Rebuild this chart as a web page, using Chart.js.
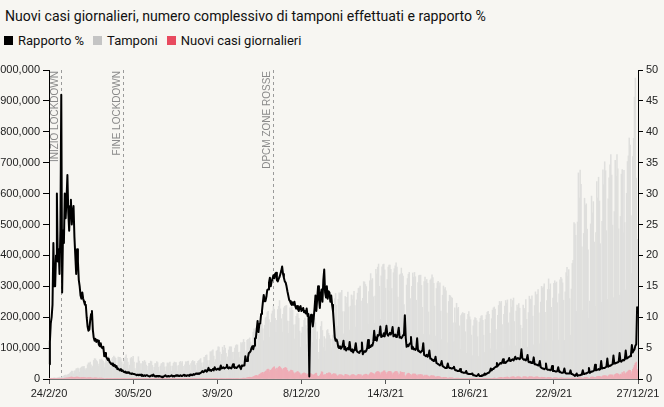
<!DOCTYPE html>
<html lang="it">
<head>
<meta charset="utf-8">
<title>Nuovi casi giornalieri, tamponi e rapporto %</title>
<script src="https://cdn.jsdelivr.net/npm/chart.js@4.4.1/dist/chart.umd.min.js"></script>
<style>
  html, body { margin: 0; padding: 0; background: #f7f6f2; }
  body { width: 664px; height: 407px; position: relative; overflow: hidden; font-family: Roboto, "Noto Sans", sans-serif; color: #111; }
  #titolo { position: absolute; left: 5px; top: 8px; font-size: 14.1px; line-height: 17px; white-space: nowrap; }
  #legenda { position: absolute; left: 4px; top: 33px; font-size: 13px; line-height: 15px; display: flex; white-space: nowrap; }
  .voce { display: flex; align-items: center; margin-right: 9px; }
  .quad { width: 9px; height: 9px; margin-right: 5px; }
  canvas { position: absolute; left: 0; top: 0; }
</style>
</head>
<body>
<div id="titolo">Nuovi casi giornalieri, numero complessivo di tamponi effettuati e rapporto %</div>
<div id="legenda">
  <div class="voce"><span class="quad" style="background:#000"></span>Rapporto %</div>
  <div class="voce"><span class="quad" style="background:#c4c4c4"></span>Tamponi</div>
  <div class="voce"><span class="quad" style="background:#e84a5f"></span>Nuovi casi giornalieri</div>
</div>
<canvas id="grafico" width="664" height="407"></canvas>
<script>
// etichette mostrate sull'asse orizzontale
const tickLabels = ['24/2/20', '30/5/20', '3/9/20', '8/12/20', '14/3/21', '18/6/21', '22/9/21', '27/12/21'];

// date notevoli
const eventi = [
    { data: '9/3/20', testo: 'INIZIO LOCKDOWN' },
    { data: '18/5/20', testo: 'FINE LOCKDOWN' },
    { data: '6/11/20', testo: 'DPCM ZONE ROSSE' }
];

// tamponi giornalieri, in migliaia (una riga = una settimana, da lunedì)
const tamponiMigliaia = [
    2, 2, 2, 3, 2, 3, 4,
    3, 3, 3, 4, 5, 6, 4,
    4, 7, 8, 10, 12, 13, 11,
    13, 15, 16, 19, 22, 26, 25,
    17, 26, 27, 33, 34, 35, 33,
    22, 35, 38, 40, 39, 41, 34,
    30, 34, 46, 52, 51, 55, 46,
    36, 42, 60, 66, 65, 60, 56,
    41, 48, 63, 62, 65, 61, 58,
    37, 52, 68, 72, 73, 73, 62,
    38, 54, 65, 70, 74, 71, 67,
    35, 44, 71, 70, 70, 66, 55,
    29, 48, 63, 71, 78, 67, 55,
    33, 45, 66, 70, 66, 73, 55,
    34, 27, 52, 52, 72, 58, 50,
    28, 50, 57, 55, 60, 55, 45,
    27, 41, 51, 51, 58, 56, 44,
    27, 38, 50, 50, 56, 53, 38,
    23, 42, 49, 51, 54, 52, 39,
    24, 40, 52, 49, 52, 55, 42,
    25, 42, 51, 55, 53, 53, 43,
    25, 44, 54, 57, 52, 56, 41,
    26, 46, 56, 55, 57, 58, 45,
    27, 50, 56, 60, 56, 57, 45,
    27, 51, 57, 60, 62, 66, 52,
    38, 53, 70, 71, 77, 78, 60,
    45, 60, 88, 88, 91, 94, 74,
    55, 63, 90, 93, 104, 103, 87,
    57, 80, 103, 93, 109, 100, 83,
    58, 72, 94, 104, 104, 104, 86,
    63, 87, 100, 108, 111, 110, 86,
    69, 87, 118, 114, 118, 128, 119,
    84, 91, 125, 128, 129, 133, 120,
    101, 112, 152, 162, 150, 165, 146,
    99, 144, 170, 177, 182, 178, 162,
    124, 174, 198, 201, 215, 219, 192,
    136, 183, 211, 220, 235, 226, 196,
    151, 190, 225, 235, 254, 227, 195,
    152, 209, 230, 235, 237, 238, 188,
    148, 187, 230, 221, 233, 222, 175,
    130, 176, 203, 211, 212, 196, 155,
    103, 149, 168, 167, 190, 197, 173,
    111, 163, 193, 189, 197, 200, 161,
    118, 170, 196, 182, 128, 153, 64,
    86, 129, 170, 186, 157, 102, 137,
    90, 130, 157, 160, 148, 141, 130,
    102, 128, 142, 160, 260, 277, 239,
    171, 258, 279, 276, 280, 287, 218,
    146, 218, 267, 245, 264, 281, 233,
    158, 236, 272, 257, 270, 284, 238,
    168, 256, 278, 293, 295, 301, 252,
    157, 261, 315, 314, 306, 299, 244,
    178, 283, 318, 341, 320, 325, 266,
    180, 268, 355, 340, 362, 372, 300,
    193, 334, 363, 370, 372, 353, 294,
    180, 322, 362, 369, 369, 355, 293,
    175, 344, 357, 366, 376, 362, 265,
    173, 337, 340, 359, 341, 333, 241,
    94, 152, 304, 325, 339, 345, 260,
    145, 300, 343, 330, 345, 331, 255,
    150, 312, 335, 336, 336, 303, 232,
    145, 315, 330, 316, 322, 310, 217,
    143, 320, 324, 337, 328, 310, 236,
    139, 293, 311, 316, 301, 311, 220,
    128, 271, 301, 291, 296, 285, 213,
    118, 251, 271, 269, 264, 262, 182,
    121, 230, 182, 245, 228, 232, 172,
    96, 205, 211, 215, 212, 212, 153,
    83, 192, 209, 218, 201, 192, 142,
    76, 172, 191, 199, 196, 189, 137,
    73, 184, 196, 204, 205, 190, 142,
    86, 193, 207, 216, 219, 209, 148,
    98, 195, 223, 230, 233, 226, 160,
    95, 206, 238, 251, 246, 251, 176,
    100, 209, 236, 254, 246, 256, 182,
    108, 214, 259, 233, 254, 262, 186,
    107, 220, 239, 232, 244, 229, 174,
    87, 164, 239, 229, 224, 257, 193,
    103, 215, 268, 259, 256, 269, 204,
    111, 238, 282, 272, 274, 289, 214,
    114, 249, 300, 294, 298, 308, 216,
    124, 254, 290, 324, 290, 308, 232,
    124, 262, 310, 318, 310, 314, 247,
    126, 276, 321, 329, 324, 311, 255,
    125, 282, 344, 361, 333, 354, 260,
    142, 291, 374, 384, 506, 502, 465,
    219, 508, 667, 586, 676, 630, 428,
    222, 471, 585, 563, 567, 485, 418,
    196, 252, 502, 592, 538, 574, 443,
    235, 474, 639, 586, 653, 576, 438,
    248, 510, 677, 629, 703, 674, 480,
    258, 583, 651, 693, 726, 660, 498,
    263, 542, 708, 656, 726, 680, 486,
    271, 526, 663, 678, 473, 675, 506,
    288, 601, 704, 722, 780, 757, 529,
    340, 720, 779, 912, 974, 650, 452,
    258
];

// nuovi casi giornalieri, in migliaia
const casiMigliaia = [
    0.22, 0.09, 0.08, 0.25, 0.24, 0.24, 0.57,
    0.34, 0.47, 0.59, 0.77, 0.78, 1.25, 1.49,
    1.8, 0.98, 2.0, 2.31, 2.65, 2.55, 3.5,
    3.23, 3.53, 4.21, 5.32, 5.99, 6.56, 5.56,
    4.79, 5.25, 5.21, 6.15, 5.96, 5.97, 5.22,
    4.05, 4.05, 4.78, 4.67, 4.58, 4.8, 4.32,
    3.6, 3.04, 3.84, 4.2, 3.95, 4.69, 4.09,
    3.15, 2.97, 2.67, 3.79, 3.49, 3.49, 3.05,
    2.26, 2.73, 3.37, 2.65, 3.02, 2.36, 2.32,
    1.74, 1.74, 2.09, 1.87, 1.97, 1.9, 1.39,
    1.22, 1.08, 1.44, 1.4, 1.33, 1.08, 0.8,
    0.74, 0.45, 0.81, 0.88, 0.79, 0.87, 0.68,
    0.45, 0.81, 0.67, 0.64, 0.65, 0.67, 0.53,
    0.3, 0.4, 0.58, 0.59, 0.52, 0.42, 0.36,
    0.18, 0.32, 0.32, 0.52, 0.27, 0.41, 0.27,
    0.2, 0.28, 0.2, 0.38, 0.33, 0.34, 0.34,
    0.3, 0.21, 0.33, 0.25, 0.26, 0.25, 0.26,
    0.22, 0.12, 0.19, 0.29, 0.26, 0.18, 0.17,
    0.13, 0.14, 0.19, 0.2, 0.24, 0.23, 0.19,
    0.21, 0.19, 0.19, 0.23, 0.28, 0.19, 0.21,
    0.17, 0.11, 0.16, 0.23, 0.23, 0.25, 0.22,
    0.13, 0.13, 0.28, 0.31, 0.31, 0.25, 0.3,
    0.18, 0.21, 0.29, 0.39, 0.38, 0.3, 0.24,
    0.16, 0.19, 0.38, 0.4, 0.4, 0.55, 0.46,
    0.26, 0.41, 0.48, 0.52, 0.57, 0.63, 0.48,
    0.32, 0.4, 0.64, 0.85, 0.95, 1.07, 1.21,
    0.95, 1.07, 1.37, 1.37, 1.46, 1.41, 1.36,
    0.99, 0.98, 1.33, 1.4, 1.73, 1.69, 1.3,
    1.11, 1.11, 1.43, 1.6, 1.62, 1.64, 1.46,
    1.0, 1.23, 1.45, 1.45, 1.91, 1.64, 1.59,
    1.35, 1.39, 1.64, 1.79, 1.91, 1.87, 1.77,
    1.49, 1.65, 1.85, 2.55, 2.5, 2.84, 2.58,
    2.26, 2.68, 3.68, 4.46, 5.37, 5.72, 5.46,
    4.62, 5.9, 7.33, 8.8, 10.0, 10.9, 11.7,
    9.34, 10.9, 15.2, 16.0, 19.1, 19.6, 21.3,
    17.0, 22.0, 25.0, 26.8, 31.1, 31.8, 29.9,
    22.3, 28.2, 30.5, 34.5, 37.8, 39.8, 32.6,
    25.3, 35.1, 32.9, 37.9, 40.9, 37.3, 33.9,
    27.3, 32.2, 34.3, 36.2, 37.2, 34.8, 28.3,
    22.9, 23.2, 25.9, 29.0, 28.4, 26.3, 20.6,
    16.4, 19.4, 20.7, 23.2, 24.1, 21.1, 18.9,
    13.7, 12.9, 16.9, 18.7, 19.9, 17.9, 17.9,
    12.0, 14.8, 17.6, 18.2, 17.9, 17.0, 15.1,
    10.9, 13.3, 14.5, 18.0, 19.0, 10.4, 8.9,
    8.6, 11.2, 16.2, 23.5, 22.2, 11.8, 14.2,
    10.8, 15.4, 18.0, 17.2, 19.9, 19.9, 18.6,
    12.5, 14.2, 15.8, 17.2, 16.1, 16.3, 12.5,
    8.8, 10.5, 13.6, 14.1, 13.6, 13.3, 11.6,
    8.6, 10.6, 15.2, 14.4, 13.6, 12.7, 11.3,
    7.9, 10.6, 13.2, 13.7, 14.2, 13.4, 11.6,
    7.9, 10.6, 12.9, 15.1, 13.9, 13.5, 13.5,
    7.4, 10.4, 13.0, 13.8, 15.5, 15.5, 13.3,
    9.6, 13.3, 16.4, 20.4, 20.5, 18.9, 17.5,
    13.1, 17.1, 20.9, 22.9, 24.0, 23.6, 20.8,
    13.9, 19.7, 22.4, 23.0, 26.8, 26.1, 21.3,
    15.3, 20.4, 23.1, 24.9, 24.0, 23.8, 20.2,
    13.8, 18.8, 21.3, 23.7, 24.1, 23.8, 19.6,
    12.9, 16.0, 23.9, 21.3, 21.9, 18.0, 21.3,
    10.7, 7.8, 13.7, 17.2, 18.9, 17.6, 15.4,
    9.8, 13.4, 16.2, 16.2, 16.0, 15.9, 12.7,
    8.9, 13.8, 13.8, 13.8, 14.8, 13.4, 13.2,
    8.4, 10.4, 12.9, 10.6, 12.6, 10.0, 9.1,
    5.9, 9.1, 11.0, 10.5, 10.6, 10.2, 8.3,
    5.1, 6.9, 7.9, 8.1, 7.6, 7.4, 5.8,
    3.5, 4.5, 5.5, 5.5, 5.2, 5.2, 4.1,
    2.5, 3.2, 3.9, 3.7, 3.4, 3.4, 2.9,
    1.8, 2.5, 2.5, 2.6, 2.4, 2.6, 2.0,
    1.3, 1.9, 2.2, 2.0, 1.9, 1.7, 1.4,
    0.9, 1.3, 1.4, 1.2, 1.2, 1.2, 0.9,
    0.5, 0.8, 0.9, 0.9, 0.9, 0.8, 0.8,
    0.4, 0.7, 0.9, 0.8, 0.8, 0.9, 0.8,
    0.5, 0.9, 1.0, 1.4, 1.4, 1.4, 1.4,
    0.9, 1.6, 2.2, 2.5, 3.1, 3.1, 2.4,
    1.8, 2.9, 3.6, 4.3, 5.1, 5.1, 4.7,
    3.1, 4.5, 5.3, 5.7, 5.6, 6.6, 5.3,
    3.2, 4.8, 6.6, 6.6, 7.2, 7.4, 6.0,
    3.7, 5.2, 6.9, 7.2, 7.4, 6.6, 5.7,
    3.0, 3.4, 7.2, 7.3, 7.3, 7.2, 6.0,
    3.8, 5.6, 7.5, 7.0, 6.9, 6.9, 5.9,
    4.3, 5.5, 6.5, 6.8, 6.7, 6.4, 5.4,
    3.5, 4.7, 5.9, 5.3, 5.3, 5.2, 4.6,
    2.8, 3.4, 4.8, 4.9, 4.6, 4.6, 3.9,
    1.9, 3.0, 4.0, 3.8, 3.9, 3.8, 3.3,
    1.8, 2.7, 3.2, 3.8, 3.4, 3.0, 2.8,
    1.9, 2.5, 3.2, 3.2, 3.0, 2.7, 2.7,
    1.6, 2.5, 3.0, 2.7, 3.0, 2.9, 2.4,
    1.6, 2.7, 3.7, 3.7, 3.9, 3.4, 3.0,
    2.5, 2.6, 4.6, 4.9, 4.9, 5.0, 3.8,
    2.3, 2.4, 5.8, 6.4, 6.6, 6.2, 5.5,
    4.1, 5.7, 7.7, 7.9, 8.6, 8.5, 7.6,
    5.1, 7.7, 10.2, 10.6, 11.0, 10.5, 9.7,
    6.4, 9.5, 12.4, 13.8, 13.7, 12.9, 12.9,
    7.0, 12.8, 15.1, 17.0, 17.9, 16.6, 15.0,
    11.1, 15.8, 13.7, 20.5, 15.0, 24.3, 19.2,
    16.2, 20.7, 23.3, 26.1, 28.6, 28.1, 24.3,
    16.2, 30.8, 36.3, 44.6, 50.6, 54.8, 24.9,
    30.8
];

// rapporto positivi / tamponi, in %
const rapporto = [
    2.4, 6, 9, 10, 12, 22, 15,
    15, 20, 30, 19, 21, 17, 24,
    46, 14, 24, 22, 30, 26, 29,
    33, 27, 24, 28, 29, 25, 27,
    28, 23, 20, 17, 21, 19, 16,
    15, 13.5, 13, 14, 13, 12.5, 12,
    12, 10, 8.5, 7.8, 8, 9.5, 10.5,
    11, 8, 6.7, 6.2, 6.5, 6, 6.3,
    6.2, 5.5, 5.3, 5.8, 5.1, 5, 5.2,
    3.7, 4.2, 3.6, 3.4, 3.1, 3.3, 2.8,
    2.6, 2.4, 2.5, 2.2, 2.1, 2.3, 1.9,
    2.1, 1.6, 1.7, 1.5, 1.4, 1.6, 1.3,
    1.4, 1.2, 1.1, 1.2, 1.0, 1.1, 1.0,
    1.1, 0.9, 0.9, 0.8, 0.9, 0.8, 0.8,
    0.8, 0.7, 0.6, 0.7, 0.6, 0.7, 0.6,
    0.7, 0.5, 0.6, 0.5, 0.6, 0.5, 0.6,
    0.6, 0.5, 0.5, 0.4, 0.5, 0.6, 0.5,
    0.7, 0.5, 0.4, 0.5, 0.4, 0.5, 0.4,
    0.5, 0.4, 0.4, 0.3, 0.4, 0.4, 0.5,
    0.6, 0.4, 0.4, 0.5, 0.4, 0.4, 0.5,
    0.6, 0.4, 0.5, 0.4, 0.5, 0.6, 0.5,
    0.6, 0.5, 0.5, 0.6, 0.5, 0.5, 0.6,
    0.7, 0.5, 0.6, 0.5, 0.6, 0.6, 0.5,
    0.7, 0.6, 0.7, 0.6, 0.8, 0.7, 0.8,
    0.9, 0.8, 0.9, 0.8, 0.9, 1.0, 1.1,
    1.3, 1.1, 1.2, 1.4, 1.3, 1.2, 1.4,
    1.8, 1.4, 1.5, 1.3, 1.5, 1.6, 1.4,
    1.9, 1.6, 1.5, 1.6, 1.7, 1.5, 1.7,
    2.2, 1.7, 1.8, 1.9, 1.7, 1.8, 1.9,
    2.3, 1.8, 1.7, 1.9, 1.8, 1.7, 2.0,
    2.4, 1.9, 1.8, 1.9, 1.8, 1.9, 2.1,
    2.2, 1.9, 1.6, 2.2, 2.1, 2.2, 2.2,
    3.7, 2.9, 2.9, 3.5, 4.2, 4.3, 4.5,
    5.0, 5.3, 4.8, 5.4, 6.6, 6.6, 8.0,
    9.4, 7.6, 8.9, 9.0, 10.5, 11.0, 12.4,
    13.6, 12.6, 12.6, 13.3, 14.4, 14.5, 15.6,
    16.4, 15.0, 15.8, 16.2, 16.8, 16.3, 17.0,
    17.2, 16.0, 15.8, 16.2, 16.5, 17.0, 17.5,
    18.2, 17.0, 16.4, 15.8, 15.6, 15.0, 14.2,
    13.5, 12.8, 12.6, 12.2, 12.0, 12.4, 12.0,
    12.5, 11.8, 11.4, 11.8, 11.3, 11.0, 11.6,
    11.8, 11.0, 11.2, 11.5, 10.8, 11.0, 10.6,
    11.4, 10.2, 10.5, 0.4, 9.8, 10.4, 9.5,
    8.5, 9.8, 11.5, 13.5, 11.0, 13.0, 15.0,
    13.0, 11.5, 13.8, 14.5, 12.5, 16.0, 17.7,
    14.0, 13.2, 15.0, 13.0, 14.2, 14.0, 12.5,
    13.5, 12.0, 11.0, 9.0, 6.8, 6.2, 6.4,
    6.0, 5.2, 5.0, 5.3, 4.9, 5.1, 5.4,
    6.2, 4.8, 5.2, 4.6, 4.9, 5.0, 4.8,
    6.0, 4.7, 4.5, 4.8, 4.3, 4.7, 4.9,
    5.8, 4.6, 4.4, 4.3, 4.2, 4.5, 4.6,
    5.9, 4.0, 4.3, 4.5, 4.4, 4.6, 5.0,
    6.3, 5.0, 5.3, 5.2, 5.5, 5.4, 6.0,
    7.8, 6.3, 6.7, 6.2, 7.1, 7.0, 7.2,
    8.5, 6.8, 6.9, 7.0, 7.4, 6.9, 7.7,
    8.6, 7.2, 7.0, 7.3, 7.5, 7.2, 7.6,
    8.4, 6.9, 7.0, 7.2, 6.8, 6.9, 7.4,
    8.3, 6.7, 6.8, 6.6, 6.8, 7.1, 7.2,
    10.3, 6.7, 5.2, 5.5, 5.3, 5.6, 5.8,
    6.8, 4.9, 5.2, 4.8, 4.9, 4.7, 4.9,
    6.6, 4.6, 4.5, 4.4, 4.3, 4.5, 4.6,
    5.8, 3.9, 3.8, 3.7, 3.9, 3.6, 3.8,
    4.6, 3.3, 3.3, 3.1, 3.0, 2.9, 3.0,
    3.6, 2.6, 2.5, 2.4, 2.3, 2.2, 2.4,
    2.9, 2.1, 2.0, 1.9, 1.8, 1.8, 1.9,
    2.5, 1.9, 1.8, 1.8, 1.7, 1.7, 1.8,
    2.0, 1.5, 1.4, 1.4, 1.3, 1.3, 1.3,
    1.6, 1.2, 1.1, 1.1, 1.0, 1.0, 1.0,
    1.3, 0.9, 0.9, 0.8, 0.8, 0.8, 0.8,
    0.9, 0.6, 0.6, 0.6, 0.5, 0.5, 0.6,
    0.8, 0.5, 0.5, 0.5, 0.6, 0.6, 0.6,
    0.9, 0.7, 0.8, 0.9, 1.0, 1.1, 1.2,
    1.7, 1.4, 1.6, 1.6, 1.8, 1.9, 2.0,
    2.6, 2.1, 2.3, 2.4, 2.6, 2.5, 2.7,
    3.2, 2.6, 2.7, 2.6, 2.8, 2.9, 3.0,
    3.4, 2.9, 3.0, 3.1, 3.2, 3.0, 3.3,
    3.6, 3.2, 3.3, 3.4, 3.3, 3.2, 3.5,
    4.8, 3.4, 3.2, 3.1, 3.2, 3.0, 3.2,
    3.9, 2.8, 2.7, 2.8, 2.6, 2.7, 2.6,
    3.5, 2.4, 2.4, 2.3, 2.3, 2.2, 2.3,
    2.9, 1.9, 1.8, 1.7, 1.7, 1.6, 1.7,
    2.5, 1.6, 1.5, 1.5, 1.5, 1.4, 1.5,
    2.1, 1.3, 1.3, 1.3, 1.2, 1.2, 1.3,
    1.9, 1.2, 1.1, 1.1, 1.0, 1.0, 1.1,
    1.7, 1.0, 0.9, 0.9, 0.9, 0.9, 0.9,
    1.4, 0.8, 0.8, 0.7, 0.6, 0.5, 0.6,
    0.9, 0.5, 0.6, 0.6, 0.6, 0.7, 0.8,
    1.4, 0.8, 0.8, 0.9, 0.9, 1.0, 1.1,
    1.8, 1.0, 1.1, 1.2, 1.2, 1.3, 1.4,
    2.3, 1.4, 1.5, 1.5, 1.6, 1.5, 1.6,
    2.9, 1.7, 1.7, 1.8, 1.8, 1.9, 2.0,
    3.3, 2.0, 2.1, 2.2, 2.2, 2.3, 2.4,
    3.8, 2.5, 2.5, 2.6, 2.6, 2.7, 2.8,
    4.2, 2.9, 2.8, 3.0, 3.1, 3.0, 3.2,
    4.6, 3.3, 3.4, 3.5, 3.6, 3.7, 4.0,
    5.5, 4.3, 4.6, 4.8, 5.4, 5.6, 11.6,
    10.5
];

// una data per ogni giorno, dal 24/2/20
const giorni = [];
for (let i = 0; i < rapporto.length; i++) {
    const d = new Date(2020, 1, 24 + i);
    giorni.push(d.getDate() + '/' + (d.getMonth() + 1) + '/' + String(d.getFullYear()).slice(2));
}

const fontAssi = { family: '"Liberation Sans", Arial, sans-serif', size: 11 };

// linee tratteggiate con le date notevoli
const pluginEventi = {
    id: 'eventi',
    beforeDatasetsDraw(chart) {
        const { ctx, chartArea, scales } = chart;
        ctx.save();
        eventi.forEach(function(ev) {
            const x = Math.round(scales.x.getPixelForValue(giorni.indexOf(ev.data))) + 0.5;
            ctx.strokeStyle = '#9a9a9a';
            ctx.lineWidth = 1;
            ctx.setLineDash([3, 3]);
            ctx.beginPath();
            ctx.moveTo(x, chartArea.top);
            ctx.lineTo(x, chartArea.bottom);
            ctx.stroke();

            ctx.save();
            ctx.translate(x - 6.5, chartArea.top + 1);
            ctx.rotate(-Math.PI / 2);
            ctx.fillStyle = '#8a8a8a';
            ctx.font = '10px "Liberation Sans", Arial, sans-serif';
            ctx.textAlign = 'right';
            ctx.textBaseline = 'middle';
            ctx.fillText(ev.testo, 0, 0);
            ctx.restore();
        });
        ctx.restore();
    }
};

new Chart(document.getElementById('grafico'), {
    type: 'bar',
    data: {
        labels: giorni,
        datasets: [{
            type: 'line',
            label: 'Rapporto %',
            data: rapporto,
            yAxisID: 'y1',
            borderColor: '#000',
            borderWidth: 2,
            borderJoinStyle: 'round',
            pointRadius: 0,
            tension: 0,
            order: 0
        }, {
            label: 'Nuovi casi giornalieri',
            data: casiMigliaia.map(v => v * 1000),
            yAxisID: 'y',
            backgroundColor: '#efadb6',
            grouped: false,
            barPercentage: 1,
            categoryPercentage: 1,
            order: 1
        }, {
            label: 'Tamponi',
            data: tamponiMigliaia.map(v => v * 1000),
            yAxisID: 'y',
            backgroundColor: '#dfdfdd',
            grouped: false,
            barPercentage: 1,
            categoryPercentage: 1,
            order: 2
        }]
    },
    options: {
        responsive: false,
        animation: false,
        devicePixelRatio: 1,
        layout: { padding: { top: 70, left: 0, right: 0, bottom: 0 } },
        plugins: {
            legend: { display: false },
            tooltip: { enabled: false }
        },
        scales: {
            x: {
                offset: false,
                grid: {
                    offset: false,
                    drawOnChartArea: false,
                    tickLength: 5,
                    color: ctx => (ctx.tick && ctx.tick.label) ? '#555' : 'rgba(0,0,0,0)'
                },
                border: { color: '#777' },
                ticks: {
                    autoSkip: false,
                    maxRotation: 0,
                    padding: 3,
                    color: '#222',
                    font: fontAssi,
                    callback: function(value) {
                        const lab = this.getLabelForValue(value);
                        return tickLabels.includes(lab) ? lab : null;
                    }
                },
                afterFit: function(scale) { scale.height = 28; }
            },
            y: {
                position: 'left',
                min: 0,
                max: 1000000,
                ticks: {
                    stepSize: 100000,
                    padding: 3,
                    color: '#222',
                    font: fontAssi,
                    callback: v => v.toLocaleString('en-US')
                },
                grid: { drawOnChartArea: false, tickLength: 6, color: '#000' },
                border: { color: '#000' },
                afterFit: function(scale) { scale.width = 49; }
            },
            y1: {
                position: 'right',
                min: 0,
                max: 50,
                ticks: { stepSize: 5, padding: 3, color: '#222', font: fontAssi },
                grid: { drawOnChartArea: false, tickLength: 5, color: '#000' },
                border: { color: '#000' },
                afterFit: function(scale) { scale.width = 26; }
            }
        }
    },
    plugins: [pluginEventi]
});
</script>
</body>
</html>
